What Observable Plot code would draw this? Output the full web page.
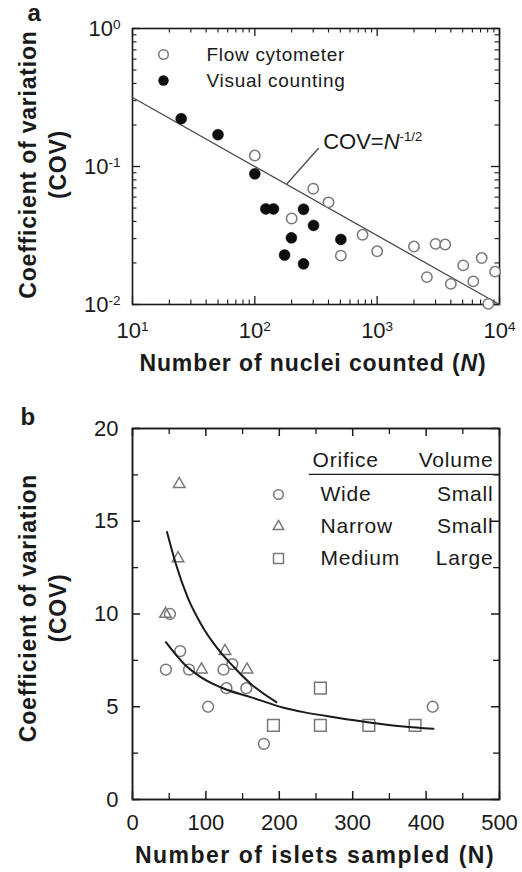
<!DOCTYPE html>
<html><head><meta charset="utf-8">
<script src="https://cdn.jsdelivr.net/npm/d3@7"></script>
<script src="https://cdn.jsdelivr.net/npm/@observablehq/plot@0.6"></script>
<style>
html,body{margin:0;padding:0;background:#fff;}
#chart{width:522px;}
#chart svg{display:block;}
</style></head><body><div id="chart"></div>
<script>
// ---------- Panel a data ----------
const flowN   = [100, 200, 300, 400, 505, 760, 1000, 2000, 2550, 3000, 3600, 4000, 5050, 6100, 7150, 8100, 9200];
const flowCov = [0.12, 0.042, 0.069, 0.055, 0.0226, 0.032, 0.0243, 0.0263, 0.0158, 0.0275, 0.0272, 0.0141, 0.0192, 0.0147, 0.0217, 0.0101, 0.0173];
const visualN   = [25, 50, 100, 123, 142, 250, 302, 199, 505, 175, 250];
const visualCov = [0.222, 0.17, 0.0885, 0.0493, 0.0493, 0.049, 0.0374, 0.0304, 0.0296, 0.0228, 0.0197];
const fitAN   = [10, 10000];
const fitACov = [0.316, 0.01];
const leaderN   = [184, 330];
const leaderCov = [0.0753, 0.135];
const annotN = 362, annotCov = 0.135;
const aXTicks = [10, 100, 1000, 10000];
const aYTicks = [0.01, 0.1, 1];
const aLegend = ["Flow cytometer", "Visual counting"];

// ---------- Panel b data ----------
const wideN     = [51, 65, 45.5, 77, 124, 136, 128, 155, 103, 179, 409];
const wideCov   = [10, 8, 7, 7, 7, 7.3, 6, 6, 5, 3, 5];
const narrowN   = [63.6, 62, 45, 94, 126, 156];
const narrowCov = [17, 13, 10, 7, 8, 7];
const mediumN   = [192, 256, 256, 322, 385];
const mediumCov = [4, 6, 4, 4, 4];
const fitNarrowN   = [47, 59, 75, 93, 116, 138, 161, 196];
const fitNarrowCov = [14.42, 12.71, 10.91, 9.48, 8.13, 7.14, 6.24, 5.25];
const fitAllN   = [45.5, 70, 93, 125, 161, 206, 233, 279, 320, 369, 410];
const fitAllCov = [8.48, 7.32, 6.6, 5.97, 5.52, 4.95, 4.71, 4.41, 4.17, 3.94, 3.81];
const bXTicks = [0, 100, 200, 300, 400, 500];
const bXMinor = [50, 150, 250, 350, 450];
const bYTicks = [0, 5, 10, 15, 20];
const bYMinor = [2.5, 7.5, 12.5, 17.5];
const legendOrifice = ["Wide", "Narrow", "Medium"];
const legendVolume  = ["Small", "Small", "Large"];
const legendSymbol  = ["circle", "triangle", "square"];
const legendHeader  = ["Orifice", "Volume"];

// ---------- layout ----------
const FONT = "'Liberation Sans', Arial, Helvetica, sans-serif";
const W = 522, ML = 132, MR = 23, FW = W - ML - MR;
const INK = "#1a1a1a", GRAY = "#787878";
const Y_TITLE = "Coefficient of variation\n(COV)";
const X_TITLE_A = "Number of nuclei counted (N)";
const X_TITLE_B = "Number of islets sampled (N)";
const ANNOT = "COV=N^-1/2";

function frameTicks(axis, values, len, FH, sw) {
  const o = {stroke: INK, strokeWidth: sw};
  if (axis === "x") return [
    Plot.tickX(values, {x: d => d, insetTop: FH - len, ...o}),
    Plot.tickX(values, {x: d => d, insetBottom: FH - len, ...o})
  ];
  return [
    Plot.tickY(values, {y: d => d, insetRight: FW - len, ...o}),
    Plot.tickY(values, {y: d => d, insetLeft: FW - len, ...o})
  ];
}
const zip = (xs, ys) => xs.map((n, i) => ({n, c: ys[i]}));

function supLabels(svg, label) {
  d3.select(svg).selectAll(`g[aria-label="${label}"] text`).each(function () {
    const [b, e] = this.textContent.split("^");
    const t = d3.select(this); t.text(null);
    t.append("tspan").text(b);
    t.append("tspan").attr("dy", "-0.5em").attr("font-size", "0.62em").text(e);
  });
}
function textsOf(svg, strings) {
  const set = new Set(strings);
  return d3.select(svg).selectAll("text").filter(function () {
    return set.has(this.textContent) || set.has(Array.from(this.childNodes).map(n => n.textContent).join("\n"));
  });
}

// ---------- Panel a ----------
const A_H = 390, A_MT = 28, A_MB = 86, A_FH = A_H - A_MT - A_MB;
const aMinorX = []; for (const d of [10, 100, 1000]) for (let k = 2; k <= 9; k++) aMinorX.push(d * k);
const aMinorY = []; for (const d of [0.01, 0.1]) for (let k = 2; k <= 9; k++) aMinorY.push(d * k);

const plotA = Plot.plot({
  width: W, height: A_H, marginLeft: ML, marginRight: MR, marginTop: A_MT, marginBottom: A_MB,
  style: {fontFamily: FONT, fontSize: "22px", color: INK, background: "white", overflow: "visible"},
  x: {type: "log", domain: [10, 10000]},
  y: {type: "log", domain: [0.01, 1]},
  marks: [
    ...frameTicks("x", aXTicks, 8, A_FH, 1.3),
    ...frameTicks("x", aMinorX, 4.5, A_FH, 1.1),
    ...frameTicks("y", aYTicks, 8, A_FH, 1.3),
    ...frameTicks("y", aMinorY, 4.5, A_FH, 1.1),
    Plot.axisX({ticks: aXTicks, tickSize: 0, tickPadding: 18, label: null,
      tickFormat: d => "10^" + Math.round(Math.log10(d))}),
    Plot.axisY({ticks: aYTicks, tickSize: 0, tickPadding: 12, label: null,
      tickFormat: d => "10^" + Math.round(Math.log10(d))}),
    Plot.frame({stroke: INK, strokeWidth: 1.6}),
    Plot.line(zip(fitAN, fitACov), {x: "n", y: "c", stroke: "#4a4a4a", strokeWidth: 1.3}),
    Plot.line(zip(leaderN, leaderCov), {x: "n", y: "c", stroke: "#4a4a4a", strokeWidth: 1.3}),
    Plot.text([{n: annotN, c: annotCov}], {x: "n", y: "c", text: () => ANNOT,
      textAnchor: "start", lineAnchor: "bottom", fontSize: 22, fill: INK}),
    Plot.dot(zip(flowN, flowCov), {x: "n", y: "c", r: 5.2, stroke: GRAY, strokeWidth: 1.5, fill: "white"}),
    Plot.dot(zip(visualN, visualCov), {x: "n", y: "c", r: 5.5, fill: "#0d0d0d", stroke: "#0d0d0d", strokeWidth: 0.5}),
    // legend
    Plot.dot([0], {frameAnchor: "top-left", dx: 31, dy: 26, r: 4.8, stroke: GRAY, strokeWidth: 1.5, fill: "white"}),
    Plot.dot([0], {frameAnchor: "top-left", dx: 31, dy: 52, r: 5.2, fill: "#0d0d0d"}),
    Plot.text([aLegend[0]], {text: d => d, frameAnchor: "top-left", dx: 74, dy: 26, textAnchor: "start",
      lineAnchor: "middle", fontSize: 19, fill: INK}),
    Plot.text([aLegend[1]], {text: d => d, frameAnchor: "top-left", dx: 74, dy: 52, textAnchor: "start",
      lineAnchor: "middle", fontSize: 19, fill: INK}),
    // titles
    Plot.text([Y_TITLE], {text: d => d, frameAnchor: "left", rotate: -90, dx: -91, dy: -2,
      textAnchor: "middle", lineAnchor: "middle",
      lineHeight: 1.3, fontSize: 23, fontWeight: "bold", fill: INK}),
    Plot.text([X_TITLE_A], {text: d => d, frameAnchor: "bottom", dx: -3, dy: 59,
      textAnchor: "middle", lineAnchor: "middle", fontSize: 23, fontWeight: "bold", fill: INK}),
    Plot.text(["a"], {text: d => d, frameAnchor: "top-left", dx: -105, dy: -8, textAnchor: "start",
      lineAnchor: "bottom", fontSize: 24, fontWeight: "bold", fill: INK})
  ]
});
supLabels(plotA, "x-axis tick label");
supLabels(plotA, "y-axis tick label");
textsOf(plotA, [ANNOT]).each(function () {
  const t = d3.select(this); t.text(null);
  t.append("tspan").text("COV=");
  t.append("tspan").attr("font-style", "italic").text("N");
  t.append("tspan").attr("dy", "-0.55em").attr("font-size", "0.6em").text("-1/2");
});
textsOf(plotA, [X_TITLE_A]).each(function () {
  const t = d3.select(this); t.text(null).attr("letter-spacing", "0.9px");
  t.append("tspan").text("Number of nuclei counted (");
  t.append("tspan").attr("font-style", "italic").text("N");
  t.append("tspan").text(")");
});
textsOf(plotA, [Y_TITLE]).attr("letter-spacing", "0.8px");
textsOf(plotA, aLegend).attr("letter-spacing", "0.7px");

// ---------- Panel b ----------
const B_H = 482, B_MT = 38, B_MB = 73, B_FH = B_H - B_MT - B_MB;
const legendMarks = [];
legendSymbol.forEach((s, i) => {
  const dy = 66 + i * 32;
  const r = s === "circle" ? 4.8 : s === "triangle" ? 3.9 : 5.6;
  legendMarks.push(
    Plot.dot([0], {frameAnchor: "top-left", dx: 146, dy, r, symbol: s, stroke: GRAY, strokeWidth: 1.5, fill: "none"}),
    Plot.text([legendOrifice[i]], {text: d => d, frameAnchor: "top-left", dx: 188, dy, textAnchor: "start",
      lineAnchor: "middle", fontSize: 21, fill: INK}),
    Plot.text([legendVolume[i]], {text: d => d, frameAnchor: "top-right", dx: -6, dy, textAnchor: "end",
      lineAnchor: "middle", fontSize: 21, fill: INK})
  );
});

const plotB = Plot.plot({
  width: W, height: B_H, marginLeft: ML, marginRight: MR, marginTop: B_MT, marginBottom: B_MB,
  style: {fontFamily: FONT, fontSize: "22px", color: INK, background: "white", overflow: "visible"},
  x: {domain: [0, 500]},
  y: {domain: [0, 20]},
  marks: [
    ...frameTicks("x", bXTicks, 8, B_FH, 1.5),
    ...frameTicks("x", bXMinor, 6, B_FH, 1.3),
    ...frameTicks("y", bYTicks, 8, B_FH, 1.5),
    ...frameTicks("y", bYMinor, 6, B_FH, 1.3),
    Plot.axisX({ticks: bXTicks, tickSize: 0, tickPadding: 15, label: null}),
    Plot.axisY({ticks: bYTicks, tickSize: 0, tickPadding: 14, label: null}),
    Plot.frame({stroke: INK, strokeWidth: 1.9}),
    Plot.dot(zip(wideN, wideCov), {x: "n", y: "c", r: 5.4, symbol: "circle", stroke: GRAY, strokeWidth: 1.5, fill: "none"}),
    Plot.dot(zip(narrowN, narrowCov), {x: "n", y: "c", r: 4.3, symbol: "triangle", stroke: GRAY, strokeWidth: 1.5, fill: "none"}),
    Plot.dot(zip(mediumN, mediumCov), {x: "n", y: "c", r: 6.6, symbol: "square", stroke: GRAY, strokeWidth: 1.5, fill: "none"}),
    Plot.line(zip(fitNarrowN, fitNarrowCov), {x: "n", y: "c", curve: "monotone-x", stroke: INK, strokeWidth: 2}),
    Plot.line(zip(fitAllN, fitAllCov), {x: "n", y: "c", curve: "monotone-x", stroke: INK, strokeWidth: 2}),
    // legend
    Plot.text([legendHeader[0]], {text: d => d, frameAnchor: "top-left", dx: 180, dy: 38, textAnchor: "start",
      lineAnchor: "bottom", fontSize: 21, fill: INK}),
    Plot.text([legendHeader[1]], {text: d => d, frameAnchor: "top-right", dx: -6, dy: 38, textAnchor: "end",
      lineAnchor: "bottom", fontSize: 21, fill: INK}),
    Plot.ruleY([17.53], {y: d => d, x1: () => 241, x2: () => 500, stroke: INK, strokeWidth: 1.3}),
    ...legendMarks,
    // titles
    Plot.text([Y_TITLE], {text: d => d, frameAnchor: "left", rotate: -90, dx: -91, dy: -6,
      textAnchor: "middle", lineAnchor: "middle",
      lineHeight: 1.3, fontSize: 23, fontWeight: "bold", fill: INK}),
    Plot.text([X_TITLE_B], {text: d => d, frameAnchor: "bottom", dx: -1, dy: 56,
      textAnchor: "middle", lineAnchor: "middle", fontSize: 23, fontWeight: "bold", fill: INK}),
    Plot.text(["b"], {text: d => d, frameAnchor: "top-left", dx: -112, dy: -4, textAnchor: "start",
      lineAnchor: "bottom", fontSize: 24, fontWeight: "bold", fill: INK})
  ]
});
textsOf(plotB, [Y_TITLE]).attr("letter-spacing", "0.8px");
textsOf(plotB, [X_TITLE_B]).attr("letter-spacing", "1.5px");
textsOf(plotB, [...legendHeader, ...legendOrifice, ...legendVolume]).attr("letter-spacing", "0.8px");

const chart = document.getElementById("chart");
chart.appendChild(plotA);
chart.appendChild(plotB);
</script></body></html>
